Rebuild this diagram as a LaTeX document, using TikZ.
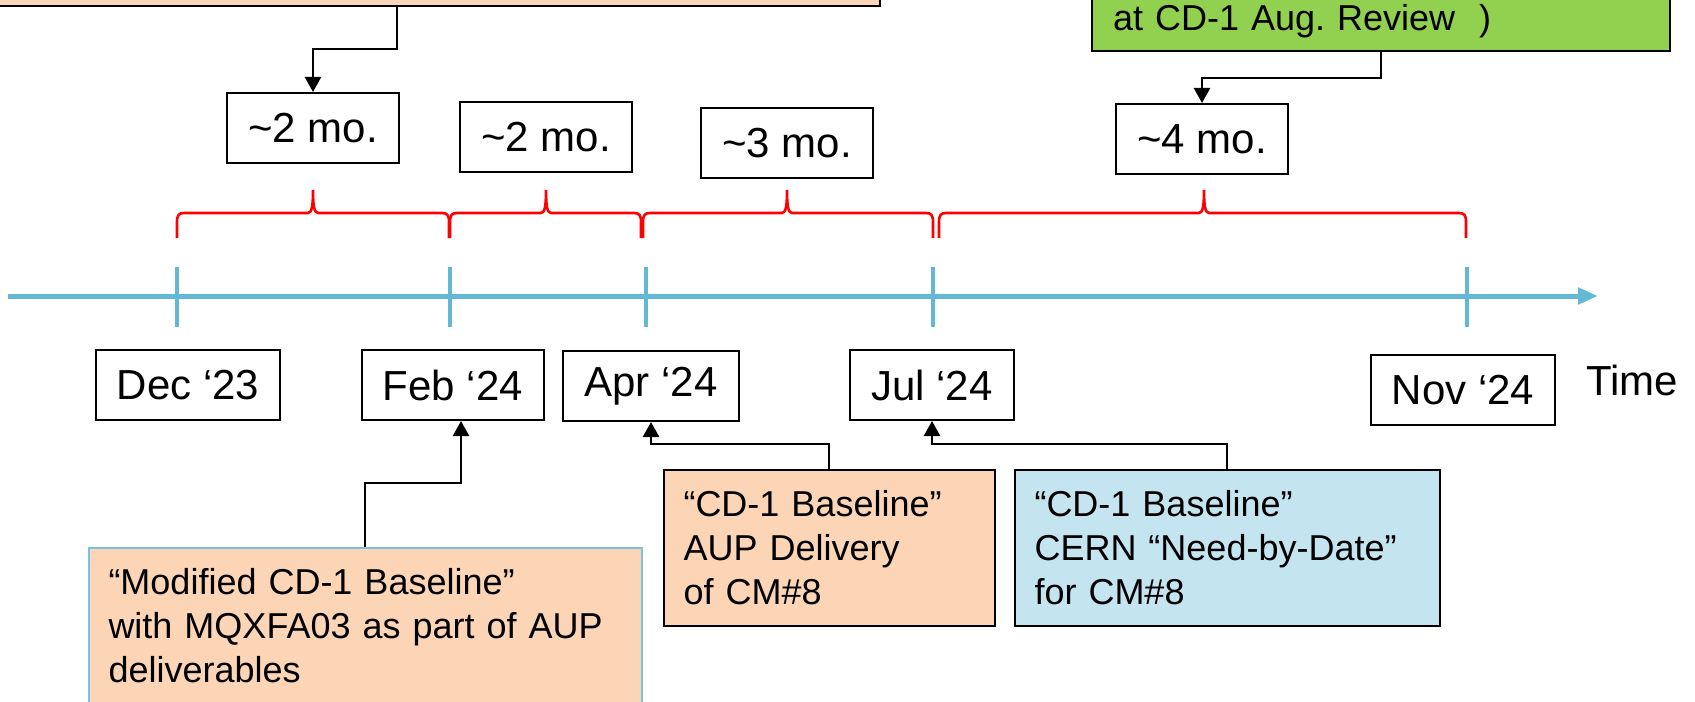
\documentclass[tikz,border=0pt]{standalone}
\usepackage{fontspec}
\setmainfont{Liberation Sans}
\usetikzlibrary{arrows.meta,calc}
\frenchspacing

\definecolor{peach}{RGB}{251,213,181}
\definecolor{paleblue}{RGB}{196,228,240}
\definecolor{leaf}{RGB}{146,208,80}
\definecolor{axisblue}{RGB}{99,184,214}
\definecolor{edgeblue}{RGB}{120,195,225}

\begin{document}
\begin{tikzpicture}[x=0.5pt, y=-0.5pt,
        every node/.style = {font=\fontsize{21}{25}\selectfont},
        stamp/.style = {draw, line width=1pt, fill=white, inner xsep=10.5pt, minimum height=35pt},
        note/.style = {draw, line width=1pt, align=left, inner xsep=10pt, minimum height=78pt,
                       font=\fontsize{18}{22}\selectfont},
        link/.style = {draw, line width=1.2pt, -{Triangle[length=7.5pt,width=8pt]}},
        bracket/.style = {draw=red, line width=1.3pt},
        timeline/.style = {draw=axisblue, line width=2.5pt, -{Triangle[length=10pt,width=8pt]}},
        tick/.style = {draw=axisblue, line width=2pt}
    ]
    \useasboundingbox (0,0) rectangle (1695,701);
    \clip (0,0) rectangle (1695,701);

    % boxes cut by the top edge
    \node[draw, line width=1pt, fill=peach, minimum width=483pt, minimum height=60pt, anchor=south] (plan) at (397,7) {};
    \node[draw, line width=1pt, fill=leaf, anchor=south, text width=268pt, align=left, inner xsep=10.5pt,
          inner ysep=6.7pt, text height=20pt, font=\fontsize{18}{22}\selectfont] (review) at (1381,52) {at CD-1 Aug. Review\ \ )};

    % durations
    \node[stamp] (mo1) at (313,128) {\textasciitilde 2 mo.};
    \node[stamp] (mo2) at (546,137) {\textasciitilde 2 mo.};
    \node[stamp] (mo3) at (787,143) {\textasciitilde 3 mo.};
    \node[stamp] (mo4) at (1202,139) {\textasciitilde 4 mo.};

    % braces over the time line
    \foreach \a/\m/\b in {177/313/449, 450/546/641, 643/787/933, 939/1204/1466}
        \draw[bracket] (\a,238) -- (\a,222) .. controls (\a,215) and ({\a+2},213) .. ({\a+7},213)
            -- ({\m-5},213) .. controls ({\m-1},213) and (\m,205) .. (\m,190)
            .. controls (\m,205) and ({\m+1},213) .. ({\m+5},213)
            -- ({\b-7},213) .. controls ({\b-2},213) and (\b,215) .. (\b,222) -- (\b,238);

    % time line
    \coordinate (tstart) at (8,296);
    \coordinate (tend) at (1598,296);
    \draw[timeline] (tstart) -- (tend);
    \foreach \x in {177,450,646,933,1467}
        \draw[tick] (\x,267) -- (\x,327);

    % dates
    \node[stamp] (dec) at (188,385) {Dec ‘23};
    \node[stamp] (feb) at (453,385) {Feb ‘24};
    \node[stamp] (apr) at (651,386) {Apr ‘24};
    \node[stamp] (jul) at (932,385) {Jul ‘24};
    \node[stamp] (nov) at (1463,390) {Nov ‘24};
    \node (time) at (1632,380) {Time};

    % milestones
    \node[note, draw=edgeblue, fill=peach, text width=256.5pt] (mod) at (365,626)
        {“Modified CD-1 Baseline”\\with MQXFA03 as part of AUP\\deliverables};
    \node[note, fill=peach, text width=145.5pt] (aup) at (829,548)
        {“CD-1 Baseline”\\AUP Delivery\\of CM\#8};
    \node[note, fill=paleblue, text width=192.5pt] (cern) at (1227,548)
        {“CD-1 Baseline”\\CERN “Need-by-Date”\\for CM\#8};

    \draw[link] (plan.south) -- ++(0,42) -| (mo1.north);
    \draw[link] (review.south) -- ++(0,26) -| (mo4.north);
    \draw[link] (mod.north) -- ++(0,-64) -| ($(feb.south)+(8,0)$);
    \draw[link] (aup.north) -- ++(0,-25) -| (apr.south);
    \draw[link] (cern.north) -- ++(0,-25) -| (jul.south);
\end{tikzpicture}
\end{document}
